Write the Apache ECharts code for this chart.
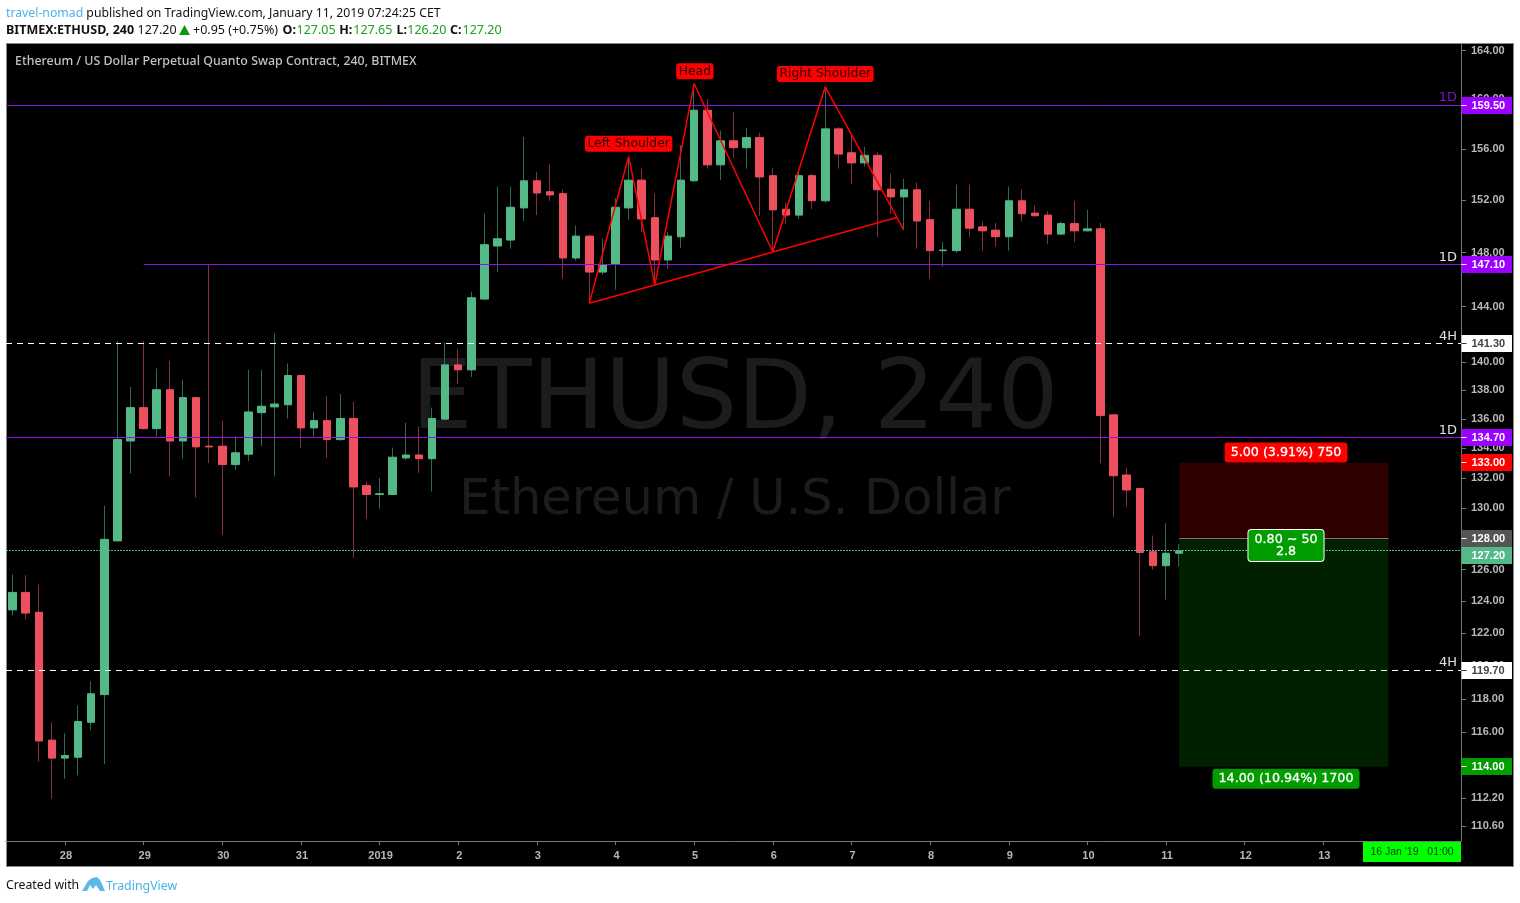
<!DOCTYPE html>
<html>
<head>
<meta charset="utf-8">
<style>html,body{margin:0;padding:0;background:#fff}#c{width:1520px;height:903px}</style>
<script src="https://cdn.jsdelivr.net/npm/echarts@6/dist/echarts.min.js"></script>
</head>
<body>
<div id="c"></div>
<script>
const opens=[123.45,124.55,123.3,115.55,114.5,114.55,116.6,118.25,127.85,134.5,
136.8,135.35,138.05,134.5,137.5,134.15,134.15,132.9,133.6,136.45,
136.85,137,139.05,135.4,135.9,134.6,136.05,131.5,130.9,130.9,
133.35,133.55,133.3,136,139.8,139.45,144.55,148.5,148.95,151.4,
153.5,152.65,152.5,147.6,149.25,146.55,147.15,151.4,153.55,150.65,
147.45,149.2,153.5,159.1,154.75,156.65,156.1,156.9,153.9,151.3,
150.85,153.9,151.95,157.6,155.7,154.9,155.5,152.85,152.25,152.8,
150.5,148.15,148.15,151.3,149.95,149.7,149.2,151.95,151,150.85,
149.4,150.2,149.65,149.8,136.3,132.2,131.3,127.15,126.25,127.05];
const closes=[124.55,123.25,115.5,114.5,114.65,116.65,118.3,127.95,134.6,136.8,
135.35,138.05,134.5,137.5,134.1,134.1,132.9,133.7,136.5,136.9,
137.05,139.05,135.4,135.9,134.6,136.05,131.4,130.9,130.95,133.4,
133.55,133.3,136.05,139.8,139.45,144.65,148.6,149.05,151.45,153.5,
152.55,152.4,147.6,149.25,146.55,147.1,151.45,153.55,150.55,147.45,
149.25,153.55,159.1,154.75,156.65,156.1,156.9,153.8,151.25,150.85,
153.9,151.95,157.6,155.6,154.9,155.5,152.8,152.25,152.8,150.4,
148.15,148.2,151.3,149.85,149.65,149.2,151.95,150.95,150.8,149.4,
150.2,149.65,149.8,136.25,132.15,131.2,127.1,126.25,127.05,127.2];
const lows=[123.1,122.85,114.3,112.15,113.3,113.5,116.15,114.15,127.85,132.3,
135.3,134.8,132.1,133.3,130.7,133,128.25,132.55,133.15,134.15,
132.1,136.05,134.05,134.8,133.35,134.5,126.75,129.3,129.95,130.9,
133.2,132.35,131.1,135.95,138.45,138.95,144.55,146.55,148.3,150.4,
150.85,151.95,146.05,147.4,144.25,146.35,145.25,150.5,149.55,145.65,
146.8,148.35,153.4,154.45,153.55,155.3,154.45,150.8,148.05,150.2,
150.55,151.3,151.8,154.45,153.25,154.6,149.2,150.95,149.7,148.3,
146.05,146.95,148,149.2,148.15,148.45,148.15,150.35,150.75,148.65,
149.35,148.8,149.6,133,129.4,130.1,121.8,126,124.1,126.2];
const highs=[125.7,125.65,125.05,116.6,115.95,117.6,119.05,130.15,141.5,138.25,
141.5,139.55,140.1,138.75,137.5,147.1,135.9,134.8,139.45,139.45,
142.05,139.9,139.1,136.5,137.6,137.75,137.2,131.75,132,134.05,
135.75,135.5,136.8,141.4,140.95,145.1,150.95,153.05,153.05,156.95,
154.2,154.8,152.8,150.05,149.35,149.05,152.15,155.35,154.45,152.5,
149.55,156.3,161.25,160,157.45,158.95,157.7,157.3,154.5,151.8,
154.35,154.05,161,157.75,157.05,156.15,155.75,154.05,153.65,153.35,
151.95,148.8,153.2,153.2,150.35,150.25,153.05,152.8,151.6,151.15,
150.35,151.95,151.25,150.25,136.3,132.7,131.3,128.2,129,127.65];

const priceTicks=[164,160,156,152,148,144,140,138,136,134,132,130,128,126,124,122,120,118,116,114,112.2,110.6];

const zigzagX=[44,47,49,52,58,62,68];
const zigzagP=[144.25,155.4,145.6,161.25,148.05,161,149.7];
const necklineX=[44,67.45];
const necklineP=[144.25,150.67];

const levelPrices=[159.5,147.1,134.7,141.3,119.7,127.2];
const levelStartX=[-0.5,10,-0.5,-0.5,-0.5,-0.5];
const posStartX=89, posEndX=104.97;
const stopPrice=133, entryPrice=128, targetPrice=114;

const tagPrices=[159.5,147.1,141.3,134.7,133,128,127.2,119.7,114];
const tagFill=['#9c00ff','#9c00ff','#ffffff','#9c00ff','#ff0000','#555555','#53b987','#ffffff','#009c00'];
const tagText=['#fff','#fff','#444','#fff','#fff','#fff','#fff','#444','#fff'];
const tagNudge=[0,0,0,0,0,0,5,0,0];

const noteTexts=['Left Shoulder','Head','Right Shoulder'];
const noteX=[47,52.05,62];
const noteP=[156.42,162.27,162.05];

const badgeTexts=['5.00 (3.91%) 750','0.80 ~ 50\n2.8','14.00 (10.94%) 1700'];
const badgeX=[97.15,97.15,97.15];
const badgeP=[133.72,127.55,113.3];

const levelLabelPrices=[159.5,147.1,141.3,134.7,119.7];
const levelLabelTexts=['1D','1D','4H','1D','4H'];

const CAT_COUNT=111, HOUR=3600000, T0=Date.UTC(2018,11,27,8);
const categories=[];
for(let i=0;i<CAT_COUNT;i++){categories.push(new Date(T0+i*4*HOUR).toISOString().slice(0,16));}

const UP='#53b987',DOWN='#ef5060',UPW='#2f6b54',DOWNW='#84303f';
const wickData=opens.map((o,i)=>[o,closes[i],lows[i],highs[i]]);
const bodyData=opens.map((o,i)=>[o,closes[i],Math.min(o,closes[i]),Math.max(o,closes[i])]);
const isMidnight=i=>categories[i].slice(11,13)==='00';
const AF='"Liberation Sans",Arial,sans-serif';
const NS='"Noto Sans",sans-serif';
const PURPLE='#8f12e6';
const levelColors=[PURPLE,PURPLE,PURPLE,'#ffffff','#ffffff',UP];
const levelDash=[null,null,null,[6,5],[6,5],[2,1]];
const crisp=y=>Math.floor(y-0.2)+0.5;

const series=[
 {name:'position',type:'custom',xAxisIndex:1,z:1,silent:true,animation:false,
  data:[[stopPrice,entryPrice],[entryPrice,targetPrice]],encode:{y:[0,1]},
  renderItem(p,api){
    const a=api.coord([posStartX,api.value(0)]),b=api.coord([posEndX,api.value(1)]);
    return {type:'rect',shape:{x:a[0],y:a[1],width:b[0]-a[0],height:b[1]-a[1]},
      style:{fill:p.dataIndex===0?'#2f0000':'#002000'}};
  }},
 {name:'entry',type:'custom',xAxisIndex:1,z:1,silent:true,animation:false,
  data:[[entryPrice]],encode:{y:0},
  renderItem(p,api){
    const a=api.coord([posStartX,api.value(0)]),b=api.coord([posEndX,api.value(0)]);
    const y=crisp(a[1]);
    return {type:'line',shape:{x1:a[0],y1:y,x2:b[0],y2:y},style:{stroke:'#777',lineWidth:1}};
  }},
 {name:'wicks',type:'candlestick',xAxisIndex:0,barWidth:1,z:2,silent:true,animation:false,data:wickData,
  itemStyle:{color:UPW,color0:DOWNW,borderColor:UPW,borderColor0:DOWNW,borderWidth:1}},
 {name:'bodies',type:'candlestick',xAxisIndex:0,barWidth:8,z:3,silent:true,animation:false,data:bodyData,
  itemStyle:{color:UP,color0:DOWN,borderColor:UP,borderColor0:DOWN,borderWidth:1}},
 {name:'levels',type:'custom',xAxisIndex:1,z:5,silent:true,animation:false,clip:false,
  data:levelPrices.map((p,i)=>[levelStartX[i],p]),encode:{x:0,y:1},
  renderItem(p,api){
    const i=p.dataIndex,a=api.coord([api.value(0),api.value(1)]),b=api.coord([CAT_COUNT-0.5,api.value(1)]);
    const y=crisp(a[1]);
    return {type:'line',shape:{x1:a[0],y1:y,x2:b[0],y2:y},
      style:{stroke:levelColors[i],lineWidth:1,lineDash:levelDash[i]||undefined}};
  }},
 {name:'zigzag',type:'line',xAxisIndex:1,symbol:'none',silent:true,animation:false,z:6,
  data:zigzagX.map((x,i)=>[x,zigzagP[i]]),lineStyle:{color:'#ff0000',width:1.5}},
 {name:'neckline',type:'line',xAxisIndex:1,symbol:'none',silent:true,animation:false,z:6,
  data:necklineX.map((x,i)=>[x,necklineP[i]]),lineStyle:{color:'#ff0000',width:1.5}},
 {name:'notes',type:'custom',xAxisIndex:1,z:7,silent:true,animation:false,
  data:noteTexts.map((t,i)=>[noteX[i],noteP[i]]),encode:{x:0,y:1},
  renderItem(p,api){
    const c=api.coord([api.value(0),api.value(1)]);
    return {type:'text',x:c[0],y:c[1],style:{text:noteTexts[p.dataIndex],align:'center',verticalAlign:'middle',
      font:'12.4px "DejaVu Sans",sans-serif',fill:'#2a0000',backgroundColor:'#ff0000',borderRadius:3,padding:[2,2.5,2,2.5]}};
  }},
 {name:'badges',type:'custom',xAxisIndex:1,z:8,silent:true,animation:false,
  data:badgeTexts.map((t,i)=>[badgeX[i],badgeP[i]]),encode:{x:0,y:1},
  renderItem(p,api){
    const c=api.coord([api.value(0),api.value(1)]),i=p.dataIndex;
    return {type:'text',x:c[0],y:c[1],style:{text:badgeTexts[i],align:'center',verticalAlign:'middle',
      font:'12.7px "DejaVu Sans",sans-serif',fill:'#fff',lineHeight:12,stroke:'#fff',lineWidth:0.3,
      backgroundColor:i===0?'#ff0000':'#009c00',borderRadius:3,
      borderColor:i===1?'#fff':undefined,borderWidth:i===1?1:0,padding:i===1?[4,6,3,6]:[4,6,4,6]}};
  }},
 {name:'priceTags',type:'custom',xAxisIndex:1,z:9,silent:true,animation:false,clip:false,
  data:tagPrices.map(p=>[CAT_COUNT-0.5,p]),encode:{x:0,y:1},
  renderItem(p,api){
    const c=api.coord([api.value(0),api.value(1)]),i=p.dataIndex,x=c[0],y=crisp(c[1])+tagNudge[i];
    const kids=[{type:'rect',shape:{x:x+0.5,y:y-8.5,width:50.5,height:17},style:{fill:tagFill[i]}}];
    if(!tagNudge[i]) kids.push({type:'rect',shape:{x:x+0.5,y:y-0.5,width:5,height:1},style:{fill:tagText[i]==='#fff'?'#fff':'#333'}});
    kids.push({type:'text',x:x+10.5,y:y,style:{text:tagPrices[i].toFixed(2),align:'left',verticalAlign:'middle',
        font:'bold 11px '+AF,fill:tagText[i]}});
    return {type:'group',children:kids};
  }},
 {name:'levelLabels',type:'custom',xAxisIndex:1,z:9,silent:true,animation:false,clip:false,
  data:levelLabelPrices.map(p=>[CAT_COUNT-0.5,p]),encode:{x:0,y:1},
  renderItem(p,api){
    const c=api.coord([api.value(0),api.value(1)]),i=p.dataIndex;
    return {type:'text',x:c[0]-4,y:c[1]-1,style:{text:levelLabelTexts[i],align:'right',verticalAlign:'bottom',
      font:'13px "DejaVu Sans",sans-serif',fill:i===0?'#7a14c8':'#e0e0e0'}};
  }}
];

const plain=(x,y,text,font,fill,z)=>({type:'text',z:z||1,x,y,style:{text,verticalAlign:'middle',font,fill}});
const BK='#111',GR='#1aa31a',R12='12.5px '+NS,B12='bold 12.5px '+NS;

const chart=echarts.init(document.getElementById('c'),null,{renderer:'canvas'});
chart.setOption({
 animation:false,backgroundColor:'#ffffff',
 grid:{left:6,top:44,width:1455,height:797,containLabel:false},
 xAxis:[
  {type:'category',data:categories,boundaryGap:true,
   axisLine:{onZero:false,lineStyle:{color:'#787878',width:1}},
   axisTick:{show:true,alignWithLabel:true,length:4,interval:i=>isMidnight(i),lineStyle:{color:'#787878'}},
   axisLabel:{interval:i=>isMidnight(i),margin:9,padding:[0,0,0,2],color:'#b8b8b8',fontFamily:AF,fontSize:11,fontWeight:'bold',
     formatter:v=>{const d=v.slice(8,10),m=v.slice(5,7);return (m==='01'&&d==='01')?'2019':String(+d);}},
   splitLine:{show:false}},
  {type:'value',min:-0.5,max:CAT_COUNT-0.5,show:false,splitLine:{show:false}}
 ],
 yAxis:{type:'log',logBase:10,min:109.78,max:164.54,position:'right',
   axisLine:{show:true,onZero:false,lineStyle:{color:'#787878',width:1}},
   axisTick:{show:true,length:5,customValues:priceTicks,lineStyle:{color:'#787878'}},
   axisLabel:{show:true,customValues:priceTicks,margin:10,verticalAlign:'middle',padding:[3,0,0,0],color:'#b8b8b8',fontFamily:AF,fontSize:11,fontWeight:'bold',
     formatter:v=>Number(v).toFixed(2)},
   splitLine:{show:false},minorTick:{show:false},minorSplitLine:{show:false}},
 series,
 graphic:[
  {type:'rect',z:-10,shape:{x:6.5,y:43.5,width:1507,height:823},style:{fill:'#000',stroke:'#8a8a8a',lineWidth:1}},
  {type:'text',z:-5,x:735,y:403,style:{text:'ETHUSD, 240',align:'center',verticalAlign:'middle',font:'97px "DejaVu Sans",sans-serif',fill:'#1c1c1c'}},
  {type:'text',z:-5,x:735,y:501,style:{text:'Ethereum / U.S. Dollar',align:'center',verticalAlign:'middle',font:'49.5px "DejaVu Sans",sans-serif',fill:'#1c1c1c'}},
  plain(15,61.5,'Ethereum / US Dollar Perpetual Quanto Swap Contract, 240, BITMEX','500 12.4px '+NS,'#c2c2c2',10),
  {type:'text',x:6,y:14,style:{verticalAlign:'middle',text:'{a|travel-nomad}{b| published on TradingView.com, January 11, 2019 07:24:25 CET}',
    rich:{a:{font:'12.25px "Noto Sans"',fill:'#4db3e6'},b:{font:'12.25px "Noto Sans"',fill:BK}}}},
  plain(6,30,'BITMEX:ETHUSD, 240',B12,BK),
  plain(137.5,30,'127.20',R12,BK),
  {type:'polygon',shape:{points:[[179,35],[184.5,25],[190,35]]},style:{fill:'#0a9a0a'}},
  plain(193,30,'+0.95 (+0.75%)',R12,BK),
  plain(282.5,30,'O:',B12,BK), plain(296.5,30,'127.05',R12,GR),
  plain(339.3,30,'H:',B12,BK), plain(353.3,30,'127.65',R12,GR),
  plain(396.5,30,'L:',B12,BK), plain(407.3,30,'126.20',R12,GR),
  plain(450,30,'C:',B12,BK), plain(462.5,30,'127.20',R12,GR),
  {type:'rect',z:10,shape:{x:1363,y:842,width:98,height:20},style:{fill:'#00ff00'}},
  {type:'text',z:11,x:1412,y:852,style:{text:"16 Jan '19   01:00",align:'center',verticalAlign:'middle',font:'10.5px '+AF,fill:'#0a3a0a'}},
  plain(6,886,'Created with','12.25px '+NS,BK),
  {type:'polygon',shape:{points:[[82,891],[88,881],[92,878],[97,877],[100,880],[102,884],[105,891],[100,891],[96,885],[93,889],[90,885],[87,891]]},style:{fill:'#5cb8e6'}},
  plain(106,886,'TradingView','12.4px '+NS,'#4db3e6')
 ]
});
</script>
</body>
</html>
